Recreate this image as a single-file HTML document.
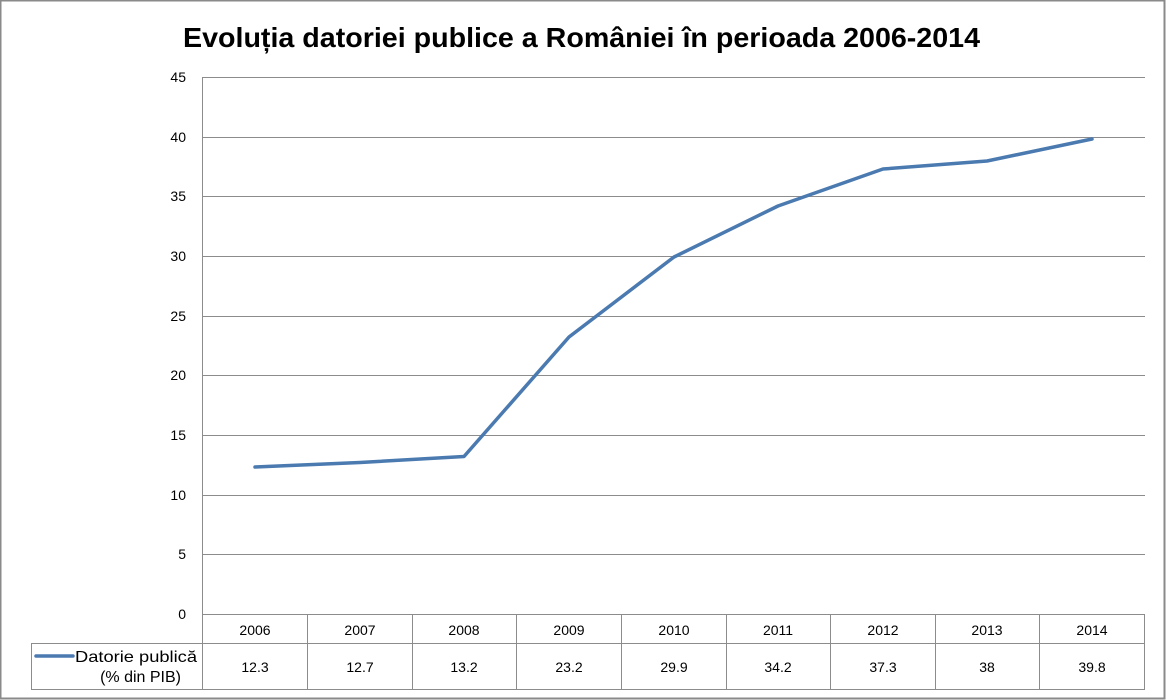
<!DOCTYPE html>
<html><head><meta charset="utf-8"><style>
html,body{margin:0;padding:0;background:#fff}
svg{display:block}
text{font-family:"Liberation Sans","DejaVu Sans",sans-serif}
</style></head><body>
<svg width="1166" height="700" viewBox="0 0 1166 700" xmlns="http://www.w3.org/2000/svg">
<rect x="0.5" y="0.5" width="1164" height="698" fill="#fff" stroke="#8a8a8a" stroke-width="2"/>
<text x="183" y="47" font-size="28" font-weight="bold" fill="#000" textLength="797" lengthAdjust="spacingAndGlyphs">Evoluția datoriei publice a României în perioada 2006-2014</text>
<g stroke="#8c8c8c" stroke-width="1">
<line x1="203" y1="77.5" x2="1145" y2="77.5"/>
<line x1="203" y1="137.5" x2="1145" y2="137.5"/>
<line x1="203" y1="196.5" x2="1145" y2="196.5"/>
<line x1="203" y1="256.5" x2="1145" y2="256.5"/>
<line x1="203" y1="316.5" x2="1145" y2="316.5"/>
<line x1="203" y1="375.5" x2="1145" y2="375.5"/>
<line x1="203" y1="435.5" x2="1145" y2="435.5"/>
<line x1="203" y1="495.5" x2="1145" y2="495.5"/>
<line x1="203" y1="554.5" x2="1145" y2="554.5"/>
<line x1="203" y1="614.5" x2="1145" y2="614.5"/>
<line x1="202.5" y1="77" x2="202.5" y2="689"/>
<line x1="31" y1="643.5" x2="1145" y2="643.5"/>
<line x1="31" y1="689.5" x2="1145" y2="689.5"/>
<line x1="31.5" y1="643" x2="31.5" y2="690"/>
<line x1="307.5" y1="614" x2="307.5" y2="690"/>
<line x1="412.5" y1="614" x2="412.5" y2="690"/>
<line x1="516.5" y1="614" x2="516.5" y2="690"/>
<line x1="621.5" y1="614" x2="621.5" y2="690"/>
<line x1="726.5" y1="614" x2="726.5" y2="690"/>
<line x1="830.5" y1="614" x2="830.5" y2="690"/>
<line x1="935.5" y1="614" x2="935.5" y2="690"/>
<line x1="1039.5" y1="614" x2="1039.5" y2="690"/>
<line x1="1144.5" y1="614" x2="1144.5" y2="690"/>
</g>
<g font-size="14" fill="#000" text-anchor="end">
<text x="186" y="82">45</text><text x="186" y="142">40</text><text x="186" y="201">35</text>
<text x="186" y="261">30</text><text x="186" y="321">25</text><text x="186" y="380">20</text>
<text x="186" y="440">15</text><text x="186" y="500">10</text><text x="186" y="559">5</text>
<text x="186" y="619">0</text>
</g>
<g font-size="14" fill="#000" text-anchor="middle">
<text x="255" y="635">2006</text><text x="360" y="635">2007</text><text x="464" y="635">2008</text>
<text x="569" y="635">2009</text><text x="674" y="635">2010</text><text x="778" y="635">2011</text>
<text x="883" y="635">2012</text><text x="987" y="635">2013</text><text x="1092" y="635">2014</text>
<text x="255" y="672">12.3</text><text x="360" y="672">12.7</text><text x="464" y="672">13.2</text>
<text x="569" y="672">23.2</text><text x="674" y="672">29.9</text><text x="778" y="672">34.2</text>
<text x="883" y="672">37.3</text><text x="987" y="672">38</text><text x="1092" y="672">39.8</text>
</g>
<line x1="36" y1="656" x2="73" y2="656" stroke="#4a7ab0" stroke-width="3.5" stroke-linecap="round"/>
<text x="75" y="662" font-size="16" fill="#000" textLength="122" lengthAdjust="spacingAndGlyphs">Datorie publică</text>
<text x="181" y="682" font-size="16" text-anchor="end" fill="#000">(% din PIB)</text>
<polyline fill="none" stroke="#4a7ab0" stroke-width="3.5" stroke-linejoin="round" stroke-linecap="round"
points="255,467 360,462.5 464,456.5 569,337 674,257 778,206 883,169 987,161 1092,139"/>
</svg>
</body></html>
